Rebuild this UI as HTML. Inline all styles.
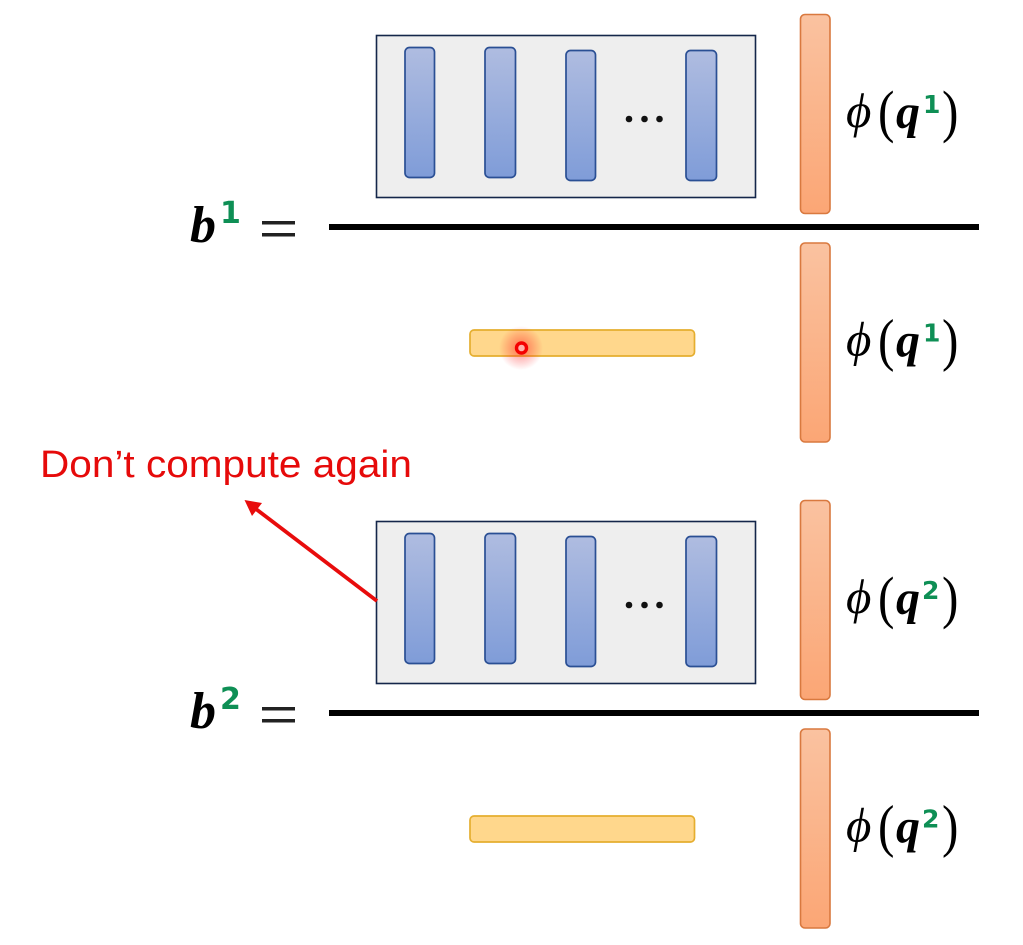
<!DOCTYPE html>
<html><head><meta charset="utf-8"><style>
html,body{margin:0;padding:0;background:#fff;width:1023px;height:945px;overflow:hidden}
svg{display:block;filter:blur(.3px)}
text{font-family:"Liberation Serif",serif}
</style></head><body>
<svg width="1023" height="945" viewBox="0 0 1023 945" xmlns="http://www.w3.org/2000/svg">
<defs>
<linearGradient id="bl" x1="0" y1="0" x2="0" y2="1"><stop offset="0" stop-color="#afbce0"/><stop offset="1" stop-color="#7f9cd8"/></linearGradient>
<linearGradient id="or" x1="0" y1="0" x2="0" y2="1"><stop offset="0" stop-color="#fac2a0"/><stop offset="1" stop-color="#fba675"/></linearGradient>
<radialGradient id="glow"><stop offset="0" stop-color="#ff2020" stop-opacity=".55"/><stop offset=".55" stop-color="#ff2020" stop-opacity=".25"/><stop offset="1" stop-color="#ff2020" stop-opacity="0"/></radialGradient>
<g id="box">
<rect x="376.500" y="35.500" width="379" height="162" fill="#eeeeee" stroke="#14264a" stroke-width="1.600"/>
<rect x="405" y="47.500" width="29.500" height="130" rx="4.500" fill="url(#bl)" stroke="#2a4f94" stroke-width="1.700"/>
<rect x="485" y="47.500" width="30.500" height="130" rx="4.500" fill="url(#bl)" stroke="#2a4f94" stroke-width="1.700"/>
<rect x="566" y="50.500" width="29.500" height="130" rx="4.500" fill="url(#bl)" stroke="#2a4f94" stroke-width="1.700"/>
<rect x="686" y="50.500" width="30.500" height="130" rx="4.500" fill="url(#bl)" stroke="#2a4f94" stroke-width="1.700"/>
<circle cx="629" cy="119" r="3.300" fill="#111"/><circle cx="644.500" cy="119" r="3.300" fill="#111"/><circle cx="659.500" cy="119" r="3.300" fill="#111"/>
</g>
<rect id="bar" x="800.500" y="14.500" width="29.500" height="199" rx="4.500" fill="url(#or)" stroke="#d9793f" stroke-width="1.600"/>
<rect id="ybar" x="470" y="330" width="224.500" height="26" rx="4" fill="#ffd78c" stroke="#e5ae2f" stroke-width="1.700"/>
<g id="phi" fill="#000">
<text x="846" y="127" font-size="49" font-style="italic">ϕ</text>
<text x="878" y="131" font-size="58" transform="translate(878 0) scale(.85 1) translate(-878 0)">(</text>
<text x="896" y="128" font-size="48" font-style="italic" font-weight="bold">q</text>
<text x="942" y="131" font-size="58" transform="translate(942 0) scale(.85 1) translate(-942 0)">)</text>
</g>
</defs>

<use href="#box"/>
<use href="#box" y="486"/>

<use href="#bar"/>
<use href="#bar" y="228.500"/>
<use href="#bar" y="486"/>
<use href="#bar" y="714.500"/>

<rect x="329" y="224" width="650" height="6" fill="#000"/>
<rect x="329" y="710" width="650" height="6" fill="#000"/>

<use href="#ybar"/>
<use href="#ybar" y="486"/>

<circle cx="521" cy="348" r="22" fill="url(#glow)"/>
<circle cx="521.500" cy="348" r="5" fill="#ffb0a8" stroke="#f40000" stroke-width="3.400"/>

<use href="#phi"/>
<use href="#phi" y="228.500"/>
<use href="#phi" y="486"/>
<use href="#phi" y="714.500"/>

<text x="190" y="242" font-size="52" font-style="italic" font-weight="bold" fill="#000">b</text>
<text x="190" y="728" font-size="52" font-style="italic" font-weight="bold" fill="#000">b</text>

<g fill="#0e8f55" font-weight="bold">
<text x="923" y="113" font-size="25" style="font-family:'DejaVu Sans',sans-serif">1</text>
<text x="923" y="341.500" font-size="25" style="font-family:'DejaVu Sans',sans-serif">1</text>
<text x="922" y="599" font-size="25" style="font-family:'DejaVu Sans',sans-serif">2</text>
<text x="922" y="827.500" font-size="25" style="font-family:'DejaVu Sans',sans-serif">2</text>
<text x="220" y="223" font-size="30" style="font-family:'DejaVu Sans',sans-serif">1</text>
<text x="220" y="709" font-size="30" style="font-family:'DejaVu Sans',sans-serif">2</text>
</g>

<rect x="262" y="221" width="33" height="3.500" fill="#222"/>
<rect x="262" y="233" width="33" height="3.500" fill="#222"/>
<rect x="262" y="707" width="33" height="3.500" fill="#222"/>
<rect x="262" y="719" width="33" height="3.500" fill="#222"/>

<text x="40" y="477" font-size="38" fill="#e60a0a" style="font-family:'Liberation Sans',sans-serif" textLength="372" lengthAdjust="spacingAndGlyphs">Don’t compute again</text>

<line x1="377" y1="601" x2="252" y2="506" stroke="#e80c0c" stroke-width="3.800"/>
<polygon points="244.500,500 262,503 252,516" fill="#e80c0c"/>
</svg>
</body></html>
